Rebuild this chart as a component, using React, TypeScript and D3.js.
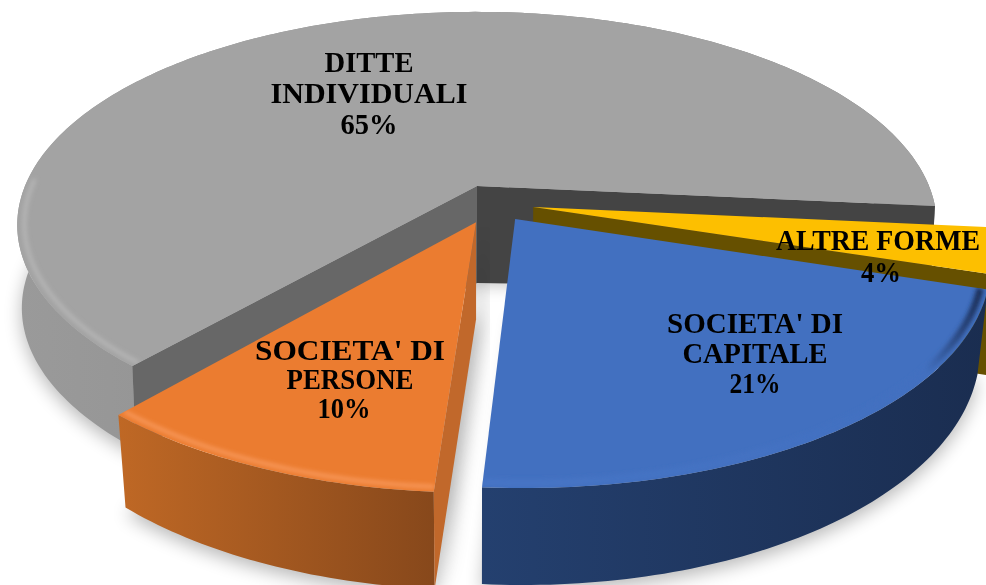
import React from "react";
import * as d3 from "d3";

const categories = ["DITTE INDIVIDUALI", "ALTRE FORME", "SOCIETA' DI CAPITALE", "SOCIETA' DI PERSONE"];
const shares = [65.1, 3.4, 21.25, 10.25];
const labelLines = [["DITTE", "INDIVIDUALI", "65%"], ["ALTRE FORME", "4%"], ["SOCIETA' DI", "CAPITALE", "21%"], ["SOCIETA' DI", "PERSONE", "10%"]];

const W = 986, H = 585;
const deg = Math.PI / 180;
// perspective disc: apex, half axes, perspective strength
const AX = 477, AY = 186, A = 452, B = 206, K = 0.183;
const project = (u: number, v: number): [number, number] => {
  const w = 1 - K * v;
  return [AX + (A * u) / w, AY + (B * v) / w];
};

const style = [
  { top: "#a3a3a3", rim: "#b6b6b6", wall: ["#9a9a9a", "#7c7c7c"], cutA: "#444444", cutB: "#676767", off: [0, 0], d0: 83, d1: 0, shrink: 0.99 },
  { top: "#fdbf00", rim: "#fdbf00", wall: ["#7f6000", "#7f6000"], cutA: "#665000", cutB: "#665000", off: [0.122, 0.1], d0: 100, d1: 0, shrink: 0.98 },
  { top: "#4270c0", rim: "#4775c6", wall: ["#24406f", "#1a2d50"], cutA: "#2f5597", cutB: "#2f5597", off: [0.082, 0.156], d0: 78.7, d1: 0.0606, shrink: 0.98 },
  { top: "#eb7c30", rim: "#f8985a", wall: ["#bf6825", "#87481b"], cutA: "#c1682b", cutB: "#c1682b", off: [-0.002, 0.17], d0: 78.7, d1: 0.0606, shrink: 0.98 },
];
const APEX_DEPTH = 97;
const labelPos: [number, number][] = [[369, 72], [878, 250], [755, 333], [350, 360]];
const labelStep = [31, 32, 30, 29];
const lineWidths = [[89, 197, 57], [204, 40], [176, 145, 51], [190, 127, 53]];
const lineShift = [[0, 0, 0], [0, 3], [0, 0, 0], [0, 0, -6]];

const pie = d3.pie<number>().sort(null).startAngle(221.1 * deg).endAngle(581.1 * deg);
const arcs = pie(shares);
const line = d3.line();

type P = [number, number];
type Geo = { i: number; arc: P[]; rimArc: P[]; apex: P; top: string; start: P; end: P };
const geo: Geo[] = arcs.map((a, i) => {
  const [ou, ov] = style[i].off;
  const n = Math.ceil((a.endAngle - a.startAngle) / deg);
  const at = (r: number) =>
    d3.range(n + 1).map((k) => {
      const t = a.startAngle + ((a.endAngle - a.startAngle) * k) / n - Math.PI / 2;
      return project(r * Math.cos(t) + ou, r * Math.sin(t) + ov);
    });
  const arc = at(1);
  const apex = project(ou, ov);
  return { i, arc, rimArc: at(0.985), apex, top: line([apex, ...arc])! + "Z", start: arc[0], end: arc[arc.length - 1] };
});
const lower = (g: Geo) => ([x, y]: P): P => {
  const s = style[g.i];
  return [AX + (x - AX) * s.shrink, y + s.d0 + s.d1 * (y - AY)];
};
const apexLow = (g: Geo): P => [g.apex[0], g.apex[1] + APEX_DEPTH];
const wallPath = (g: Geo) => line([...g.arc, ...g.arc.map(lower(g)).reverse()])! + "Z";
const cutPath = (g: Geo, p: P) => line([g.apex, p, lower(g)(p), apexLow(g)])! + "Z";

const Lbl = ({ i }: { i: number }) => (
  <g fontFamily="'Liberation Serif', serif" fontWeight={700} fontSize={29} fill="#000" textAnchor="middle" filter="url(#soft)">
    {labelLines[i].map((s, k) => (
      <text key={k} x={labelPos[i][0] + lineShift[i][k]} y={labelPos[i][1] + k * labelStep[i]} textLength={lineWidths[i][k]} lengthAdjust="spacingAndGlyphs">{s}</text>
    ))}
  </g>
);

export default function App() {
  const [gray, yellow, blue, orange] = geo;
  return (
    <svg width={W} height={H} viewBox={`0 0 ${W} ${H}`} style={{ position: "absolute", left: 0, top: 0, background: "#fff" }}>
      <defs>
        <filter id="shadow" x="-10%" y="-10%" width="120%" height="120%"><feGaussianBlur stdDeviation="9" /></filter>
        <filter id="rimBlur" x="-5%" y="-5%" width="110%" height="110%"><feGaussianBlur stdDeviation="2" /></filter>
        <filter id="soft" x="-5%" y="-5%" width="110%" height="110%"><feGaussianBlur stdDeviation="0.45" /></filter>
        {geo.map((g) => <clipPath key={g.i} id={`top${g.i}`}><path d={g.top} /></clipPath>)}
        {style.map((s, i) => (
          <linearGradient key={i} id={`wall${i}`} x1="0" x2="1" y1="0" y2="0">
            <stop offset="0" stopColor={s.wall[0]} />
            <stop offset="1" stopColor={s.wall[1]} />
          </linearGradient>
        ))}
        <linearGradient id="blueRim" gradientUnits="userSpaceOnUse" x1="480" x2="986" y1="0" y2="0">
          <stop offset="0" stopColor="#4775c6" />
          <stop offset="0.88" stopColor="#4270c0" />
          <stop offset="1" stopColor="#16264a" />
        </linearGradient>
      </defs>

      {[gray, orange, blue].map((g) => (
        <path key={g.i} d={line(g.arc.map(lower(g)).map(([x, y]) => [x, y + 6] as P).concat([apexLow(g)]))! + "Z"} fill="#000" opacity={0.28} filter="url(#shadow)" />
      ))}

      <path d={wallPath(gray)} fill="url(#wall0)" />
      <path d={cutPath(gray, gray.end)} fill={style[0].cutA} />
      <path d={cutPath(gray, gray.start)} fill={style[0].cutB} />
      <path d={gray.top} fill={style[0].top} />
      <g clipPath="url(#top0)">
        <path d={line(gray.rimArc.slice(0, 52))!} fill="none" stroke={style[0].rim} strokeWidth={4} filter="url(#rimBlur)" />
      </g>

      <path d={wallPath(yellow)} fill={style[1].wall[0]} />
      <path d={cutPath(yellow, yellow.end)} fill={style[1].cutA} />
      <path d={yellow.top} fill={style[1].top} />

      <path d={cutPath(orange, orange.start)} transform="translate(9,4)" fill="#000" opacity={0.16} filter="url(#shadow)" />
      <path d={wallPath(orange)} fill="url(#wall3)" />
      <path d={cutPath(orange, orange.start)} fill={style[3].cutA} />
      <path d={orange.top} fill={style[3].top} />
      <g clipPath="url(#top3)">
        <path d={line(orange.rimArc)!} fill="none" stroke={style[3].rim} strokeWidth={4} filter="url(#rimBlur)" />
      </g>

      <path d={wallPath(blue)} fill="url(#wall2)" />
      <path d={blue.top} fill={style[2].top} />
      <g clipPath="url(#top2)">
        <path d={line(blue.rimArc)!} fill="none" stroke="url(#blueRim)" strokeWidth={7} filter="url(#rimBlur)" />
      </g>

      {categories.map((c, i) => <Lbl key={c} i={i} />)}
    </svg>
  );
}
